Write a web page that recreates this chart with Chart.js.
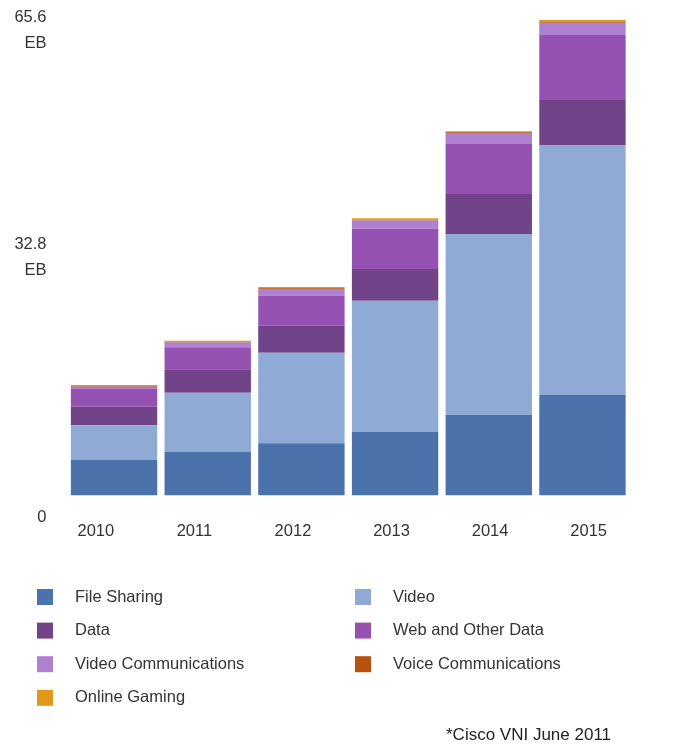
<!DOCTYPE html>
<html>
<head>
<meta charset="utf-8">
<script src="https://cdn.jsdelivr.net/npm/chart.js@4/dist/chart.umd.min.js"></script>
<style>
  html, body { margin: 0; padding: 0; background: #ffffff; }
  #wrap { position: relative; width: 688px; height: 751px; }
</style>
</head>
<body>
<div id="wrap"><canvas id="c" width="688" height="751"></canvas></div>
<script>
// Consumer internet traffic by application, exabytes
const years = ['2010', '2011', '2012', '2013', '2014', '2015'];
const fileSharing        = [4.89, 6.00, 7.19, 8.79, 11.09, 13.85];
const video              = [4.78, 8.17, 12.49, 18.05, 24.94, 34.45];
const dataTraffic        = [2.56, 3.22, 3.72, 4.37, 5.51, 6.20];
const webOtherData       = [2.44, 3.03, 4.13, 5.55, 6.89, 8.96];
const videoComms         = [0.32, 0.66, 0.92, 1.14, 1.52, 1.70];
const voiceComms         = [0.10, 0.10, 0.10, 0.10, 0.10, 0.10];
const onlineGaming       = [0.15, 0.15, 0.20, 0.20, 0.15, 0.30];

const seriesNames = ['File Sharing', 'Video', 'Data', 'Web and Other Data',
                     'Video Communications', 'Voice Communications', 'Online Gaming'];
const seriesColors = ['#4b72ab', '#8eaad5', '#714389', '#9552b3', '#ae80cf', '#b5530e', '#e2981a'];

const yTickValues = [0, 32.8, 65.6];
const yTickLabels = [['0'], ['32.8', 'EB'], ['65.6', 'EB']];
const sourceNote = '*Cisco VNI June 2011';

const FONT = '"Liberation Sans", Arial, sans-serif';
const FONT_SIZE = 16.5;
const TEXT_COLOR = '#333333';

const seriesValues = [fileSharing, video, dataTraffic, webOtherData, videoComms, voiceComms, onlineGaming];

// Y axis labels: two-line "value / EB" blocks, top one kept inside the canvas,
// origin label set just under the baseline.
const yLabelPlugin = {
  id: 'yLabels',
  afterDraw(chart) {
    const ctx = chart.ctx;
    const y = chart.scales.y;
    const lineH = 25.5;
    ctx.save();
    ctx.font = FONT_SIZE + 'px ' + FONT;
    ctx.fillStyle = TEXT_COLOR;
    ctx.textAlign = 'right';
    ctx.textBaseline = 'middle';
    yTickValues.forEach((v, i) => {
      const lines = yTickLabels[i];
      const px = y.getPixelForValue(v);
      let first;
      if (v === y.min) {
        first = px + 21.5;
      } else {
        first = px - (lines.length - 1) * lineH / 2;
        first = Math.max(first, 17.5);
      }
      lines.forEach((t, k) => ctx.fillText(t, 46.5, first + k * lineH));
    });
    ctx.restore();
  }
};

// Category labels under the bars, spread slightly wider than the bar slots
const xLabelPlugin = {
  id: 'xLabels',
  afterDraw(chart) {
    const ctx = chart.ctx;
    const x = chart.scales.x;
    const mid = (chart.chartArea.left + chart.chartArea.right) / 2;
    const spread = 1.052;
    ctx.save();
    ctx.font = FONT_SIZE + 'px ' + FONT;
    ctx.fillStyle = TEXT_COLOR;
    ctx.textAlign = 'center';
    ctx.textBaseline = 'middle';
    chart.data.labels.forEach((lab, i) => {
      const px = mid - 6 + (x.getPixelForValue(i) - mid) * spread;
      ctx.fillText(lab, px, chart.chartArea.bottom + 35.5);
    });
    ctx.restore();
  }
};

// Two-column legend under the plot plus the source note
const legendPlugin = {
  id: 'gridLegend',
  afterDraw(chart) {
    const ctx = chart.ctx;
    const colX = [37, 355];
    const rowY0 = 597, rowStep = 33.6, box = 16;
    ctx.save();
    ctx.font = FONT_SIZE + 'px ' + FONT;
    ctx.textBaseline = 'middle';
    ctx.textAlign = 'left';
    chart.data.datasets.forEach((ds, i) => {
      const cx = colX[i % 2];
      const cy = rowY0 + Math.floor(i / 2) * rowStep;
      ctx.fillStyle = ds.backgroundColor;
      ctx.fillRect(cx, cy - box / 2, box, box);
      ctx.fillStyle = TEXT_COLOR;
      ctx.fillText(ds.label, cx + 38, cy);
    });
    ctx.font = '17px ' + FONT;
    ctx.fillStyle = '#222222';
    ctx.fillText(sourceNote, 446, 735);
    ctx.restore();
  }
};

new Chart(document.getElementById('c'), {
  type: 'bar',
  data: {
    labels: years,
    datasets: seriesNames.map((name, i) => ({
      label: name,
      data: seriesValues[i],
      backgroundColor: seriesColors[i],
      borderWidth: 0,
      barPercentage: 0.922,
      categoryPercentage: 1.0
    }))
  },
  options: {
    responsive: false,
    animation: false,
    devicePixelRatio: 1,
    layout: { padding: { top: 19.5, right: 58.7, left: 0, bottom: 0 } },
    plugins: {
      legend: { display: false },
      tooltip: { enabled: false }
    },
    scales: {
      x: {
        stacked: true,
        grid: { display: false },
        border: { display: false },
        ticks: { display: false },
        afterFit(s) { s.height = 255.5; }
      },
      y: {
        stacked: true,
        min: 0,
        max: 65.6,
        grid: { display: false },
        border: { display: false },
        ticks: { display: false },
        afterBuildTicks(s) { s.ticks = yTickValues.map(v => ({ value: v })); },
        afterFit(s) { s.width = 67.2; }
      }
    }
  },
  plugins: [yLabelPlugin, xLabelPlugin, legendPlugin]
});
</script>
</body>
</html>
